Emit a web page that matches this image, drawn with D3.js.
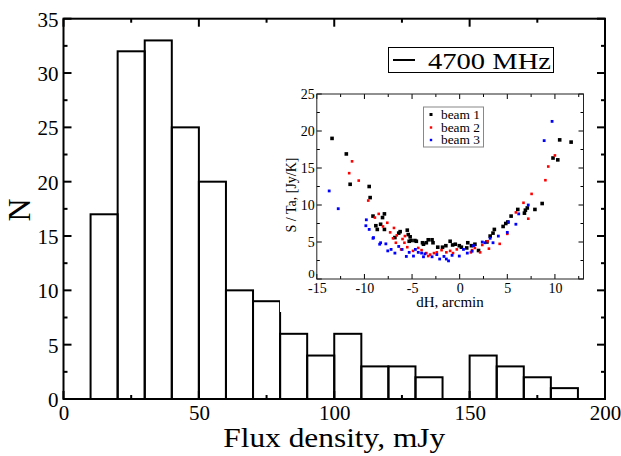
<!DOCTYPE html>
<html>
<head>
<meta charset="utf-8">
<script src="https://cdn.jsdelivr.net/npm/d3@7"></script>
<style>
  html, body { margin: 0; padding: 0; background: #fff; }
  svg { display: block; }
  text { font-family: "Liberation Serif", "DejaVu Serif", serif; fill: #000; }
</style>
</head>
<body>
<svg id="chart" width="621" height="456"></svg>
<script>
// ---------------- Main histogram data ----------------
const binStarts = [10, 20, 30, 40, 50, 60, 70, 80, 90, 100, 110, 120, 130, 140, 150, 160, 170, 180];
const binCounts = [17, 32, 33, 25, 20, 10, 9, 6, 4, 6, 3, 3, 2, 0, 4, 3, 2, 1];
const binWidth = 10;
const xTicksMain = [0, 50, 100, 150, 200];
const yTicksMain = [0, 5, 10, 15, 20, 25, 30, 35];
const legendMain = "4700 MHz";

// ---------------- Inset scatter data (dH, S/Ta) ----------------
const beam1X = [-13.4, -11.9, -11.5, -9.5, -9.4, -9.1, -8.8, -8.65, -8.3, -8.1, -7.9, -7.9, -6.8, -6.4, -6.25, -5.5, -5.4, -5.3, -5.2, -5.1, -4.7, -4.55, -3.9, -3.8, -3.5, -3.3, -2.9, -2.8, -2.3, -1.8, -1.45, -1.0, -0.74, -0.46, -0.04, 0.18, 0.74, 0.85, 1.24, 1.6, 1.98, 2.86, 3.2, 3.5, 3.64, 4.56, 4.84, 5.05, 5.4, 6.1, 6.8, 6.9, 7.1, 7.9, 8.66, 9.8, 10.3, 10.5, 11.7];
const beam1Y = [19.0, 16.9, 12.8, 12.5, 11.0, 8.5, 7.2, 6.7, 7.4, 8.3, 8.8, 6.7, 5.6, 6.2, 6.4, 6.6, 6.0, 5.1, 5.7, 5.2, 5.2, 5.1, 4.9, 4.7, 4.9, 5.3, 5.3, 4.9, 4.3, 4.3, 4.5, 5.1, 4.6, 4.7, 4.5, 4.3, 4.2, 4.9, 4.5, 4.7, 3.85, 5.0, 5.8, 6.2, 6.7, 7.1, 7.5, 7.7, 8.5, 9.4, 8.9, 9.3, 9.6, 9.4, 10.2, 16.35, 16.1, 18.8, 18.5];

const beam2X = [-11.3, -11.6, -10.6, -9.6, -8.9, -8.5, -8.05, -7.6, -7.3, -6.9, -7.0, -6.7, -6.6, -6.0, -5.8, -5.75, -6.15, -5.5, -4.9, -4.35, -4.0, -3.5, -3.3, -3.1, -2.7, -2.4, -1.9, -1.4, -1.0, -0.7, -0.3, 1.17, 1.3, 1.6, 2.15, 2.37, 2.93, 3.07, 4.2, 5.0, 5.9, 6.7, 7.2, 7.55, 9.0, 9.3, 10.0];
const beam2Y = [15.9, 14.3, 13.3, 10.6, 8.3, 8.8, 7.1, 7.6, 6.3, 6.9, 5.5, 4.9, 5.9, 5.4, 4.9, 5.8, 4.0, 4.3, 3.8, 4.2, 3.9, 3.5, 3.1, 3.3, 3.5, 3.6, 3.9, 3.6, 3.8, 3.5, 4.0, 3.6, 3.9, 4.2, 3.6, 4.6, 5.1, 4.1, 4.75, 6.1, 9.0, 10.3, 8.15, 11.5, 13.35, 15.2, 16.7];

const beam3X = [-13.7, -12.75, -9.8, -9.85, -9.5, -9.05, -9.1, -8.3, -8.4, -7.75, -7.55, -7.2, -6.8, -6.4, -6.05, -5.6, -5.3, -4.85, -4.65, -4.35, -4.0, -3.65, -3.8, -2.9, -2.4, -2.1, -1.65, -1.4, -1.17, -0.8, -0.04, 0.4, 0.8, 1.3, 1.45, 2.37, 2.65, 3.2, 3.5, 4.06, 5.0, 5.1, 5.9, 6.2, 7.2, 8.87, 9.7];
const beam3Y = [11.9, 9.5, 8.0, 7.2, 6.7, 5.6, 5.5, 4.9, 4.7, 4.75, 3.8, 4.0, 3.5, 4.4, 4.0, 3.05, 3.6, 3.1, 4.0, 3.6, 3.5, 3.4, 3.0, 3.0, 3.3, 2.7, 3.05, 2.7, 2.45, 3.2, 3.1, 4.0, 3.5, 3.75, 4.5, 5.0, 4.9, 5.5, 4.9, 5.8, 6.3, 7.7, 7.4, 8.8, 10.0, 18.7, 21.3];

const beamNames = ["beam 1", "beam 2", "beam 3"];
const beamColors = ["#000000", "#ff0000", "#0000ff"];
const xTicksInset = [-15, -10, -5, 0, 5, 10];
const yTicksInset = [0, 5, 10, 15, 20, 25];

const svg = d3.select("#chart");

// ---------------- Main chart ----------------
const X0 = 63.5, X1 = 605, Y0 = 399, Y1 = 18.7;
const x = d3.scaleLinear().domain([0, 200]).range([X0, X1]);
const y = d3.scaleLinear().domain([0, 35]).range([Y0, Y1]);

const bars = binStarts.map((s, i) => ({ s, c: binCounts[i] }));
svg.append("g").selectAll("rect").data(bars).join("rect")
  .attr("x", d => x(d.s))
  .attr("y", d => y(d.c))
  .attr("width", d => x(d.s + binWidth) - x(d.s))
  .attr("height", d => y(0) - y(d.c))
  .attr("fill", "none")
  .attr("stroke", "#000")
  .attr("stroke-width", 2);

function mainAxes() {
  const g = svg.append("g");
  const xMinor = d3.range(0, 201, 25);
  const yMinor = d3.range(0, 35.01, 2.5);
  const tickLine = (x1, y1, x2, y2) => g.append("line")
    .attr("x1", x1).attr("y1", y1).attr("x2", x2).attr("y2", y2)
    .attr("stroke", "#000").attr("stroke-width", 2);
  xMinor.forEach(v => {
    const L = (v % 50 === 0) ? 8 : 4;
    tickLine(x(v), Y0, x(v), Y0 - L);
    tickLine(x(v), Y1, x(v), Y1 + L);
  });
  yMinor.forEach(v => {
    const L = (v % 5 === 0) ? 8 : 4;
    tickLine(X0, y(v), X0 + L, y(v));
    tickLine(X1, y(v), X1 - L, y(v));
  });
  g.append("rect").attr("x", X0).attr("y", Y1).attr("width", X1 - X0).attr("height", Y0 - Y1)
    .attr("fill", "none").attr("stroke", "#000").attr("stroke-width", 2);

  const xa = svg.append("g").attr("transform", `translate(0,${Y0})`)
    .call(d3.axisBottom(x).tickValues(xTicksMain).tickSize(0).tickPadding(0).tickFormat(d3.format("d")));
  xa.select(".domain").remove();
  xa.selectAll("text").attr("font-size", 21).attr("font-family", "Liberation Serif").attr("dy", null).attr("y", 21);

  const ya = svg.append("g").attr("transform", `translate(${X0},0)`)
    .call(d3.axisLeft(y).tickValues(yTicksMain).tickSize(0).tickPadding(0).tickFormat(d3.format("d")));
  ya.select(".domain").remove();
  ya.selectAll("text").attr("font-size", 21).attr("font-family", "Liberation Serif").attr("x", -5).attr("dy", "0.36em");
}

function inset() {
  const IX0 = 316.8, IX1 = 583.5, IY0 = 279, IY1 = 94;
  const xi = d3.scaleLinear().domain([-15, 13]).range([IX0, IX1]);
  const yi = d3.scaleLinear().domain([0, 25]).range([IY0, IY1]);
  const g = svg.append("g");
  g.append("rect").attr("x", 280).attr("y", 84).attr("width", 316).attr("height", 228).attr("fill", "#fff");

  const tl = (x1, y1, x2, y2) => g.append("line")
    .attr("x1", x1).attr("y1", y1).attr("x2", x2).attr("y2", y2)
    .attr("stroke", "#000").attr("stroke-width", 1);
  d3.range(-15, 13.01, 2.5).forEach(v => {
    const L = (v % 5 === 0) ? 5 : 3;
    tl(xi(v), IY0, xi(v), IY0 - L);
    tl(xi(v), IY1, xi(v), IY1 + L);
  });
  d3.range(0, 25.01, 2.5).forEach(v => {
    const L = (v % 5 === 0) ? 5 : 3;
    tl(IX0, yi(v), IX0 + L, yi(v));
    tl(IX1, yi(v), IX1 - L, yi(v));
  });
  g.append("rect").attr("x", IX0).attr("y", IY1).attr("width", IX1 - IX0).attr("height", IY0 - IY1)
    .attr("fill", "none").attr("stroke", "#222").attr("stroke-width", 1);

  const xa = g.append("g").attr("transform", `translate(0,${IY0})`)
    .call(d3.axisBottom(xi).tickValues(xTicksInset).tickSize(0).tickPadding(0).tickFormat(d => String(d)));
  xa.select(".domain").remove();
  xa.selectAll("text").attr("font-size", 14).attr("font-family", "Liberation Serif").attr("dy", null).attr("y", 13.5);
  const ya = g.append("g").attr("transform", `translate(${IX0},0)`)
    .call(d3.axisLeft(yi).tickValues(yTicksInset).tickSize(0).tickPadding(0).tickFormat(d => String(d)));
  ya.select(".domain").remove();
  ya.selectAll("text").attr("font-size", d => d === 0 ? 13 : 14).attr("font-family", "Liberation Serif").attr("x", -2)
    .attr("dy", d => d === 0 ? "-0.12em" : "0.32em");

  g.append("text").attr("x", 450).attr("y", 307).attr("text-anchor", "middle")
    .attr("font-size", 15).text("dH, arcmin");
  g.append("text").attr("transform", "translate(296,195) rotate(-90)").attr("text-anchor", "middle")
    .attr("font-size", 14).text("S / Ta, [Jy/K]");

  const series = [
    { xs: beam1X, ys: beam1Y, s: 3.6 },
    { xs: beam2X, ys: beam2Y, s: 2.6 },
    { xs: beam3X, ys: beam3Y, s: 2.8 }
  ];
  series.forEach((ser, k) => {
    const pts = ser.xs.map((v, i) => [v, ser.ys[i]]);
    g.append("g").selectAll("rect").data(pts).join("rect")
      .attr("x", d => xi(d[0]) - ser.s / 2)
      .attr("y", d => yi(d[1]) - ser.s / 2)
      .attr("width", ser.s).attr("height", ser.s)
      .attr("fill", beamColors[k]);
  });

  const lg = g.append("g");
  lg.append("rect").attr("x", 423.5).attr("y", 107).attr("width", 60).attr("height", 40)
    .attr("fill", "#fff").attr("stroke", "#888").attr("stroke-width", 1);
  const rowsY = [114.5, 127.5, 140];
  beamNames.forEach((nm, k) => {
    const s = k === 0 ? 3 : 2.4;
    lg.append("rect").attr("x", 431 - s / 2).attr("y", rowsY[k] - s / 2).attr("width", s).attr("height", s)
      .attr("fill", beamColors[k]);
    lg.append("text").attr("x", 441).attr("y", rowsY[k] + 4).attr("font-size", 12.5)
      .attr("textLength", 39).attr("lengthAdjust", "spacingAndGlyphs").text(nm);
  });
}

mainAxes();
inset();

svg.append("text").attr("x", x(100)).attr("y", 447).attr("text-anchor", "middle")
  .attr("font-size", 27).attr("textLength", 222).attr("lengthAdjust", "spacingAndGlyphs")
  .text("Flux density, mJy");
svg.append("text").attr("transform", "translate(30,210) rotate(-90)").attr("text-anchor", "middle")
  .attr("font-size", 32).text("N");

const lgm = svg.append("g");
lgm.append("rect").attr("x", 388.5).attr("y", 47.5).attr("width", 165).attr("height", 25)
  .attr("fill", "#fff").attr("stroke", "#000").attr("stroke-width", 1);
lgm.append("line").attr("x1", 393).attr("x2", 415).attr("y1", 60).attr("y2", 60)
  .attr("stroke", "#000").attr("stroke-width", 2);
lgm.append("text").attr("x", 428).attr("y", 68.5).attr("font-size", 23)
  .attr("textLength", 123).attr("lengthAdjust", "spacingAndGlyphs").text(legendMain);
</script>
</body>
</html>
